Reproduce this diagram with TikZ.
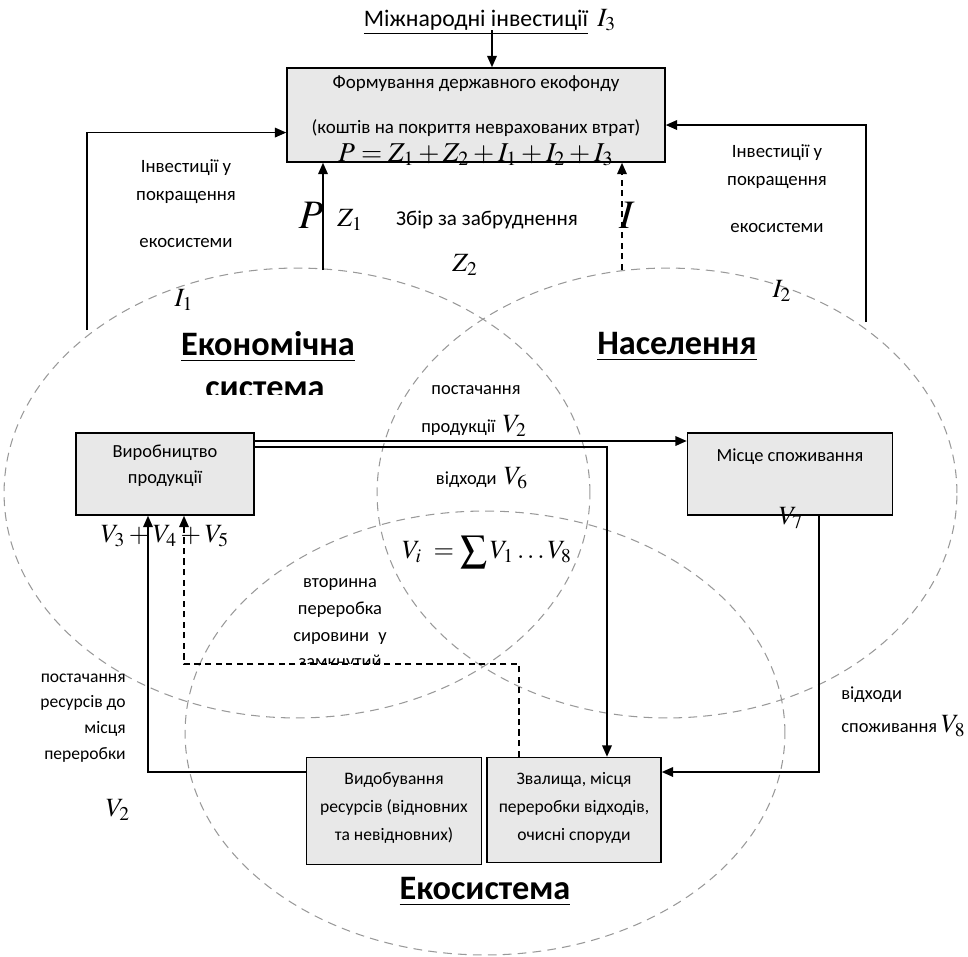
\documentclass[tikz,border=0pt]{standalone}
\usepackage{mathptmx}
\usepackage[no-math]{fontspec}
\setmainfont{Carlito}
\usetikzlibrary{arrows.meta,positioning}
\definecolor{boxfill}{gray}{0.91}
\definecolor{zonegray}{gray}{0.6}

\begin{document}
\begin{tikzpicture}[x=0.02cm, y=-0.02cm,
  >={Triangle[length=6.5pt,width=5.5pt]},
  box/.style={draw, line width=0.9pt, fill=boxfill, inner sep=0pt},
  zone/.style={draw=zonegray, line width=0.6pt, dash pattern=on 5pt off 3.5pt},
  link/.style={line width=0.9pt, ->},
  dlink/.style={link, dash pattern=on 3.5pt off 2.5pt},
  txt/.style={font=\fontsize{10.5}{15.5}\selectfont, align=center, inner sep=0pt},
  head/.style={font=\fontsize{19.5}{22}\selectfont\bfseries, inner sep=0pt},
  sym/.style={font=\fontsize{15}{17}\selectfont, inner sep=0pt},
  bigsym/.style={font=\fontsize{23}{25}\selectfont, inner sep=0pt}]
  \useasboundingbox (0,0) rectangle (968,957);

  % three overlapping systems
  \draw[zone] (297,493) ellipse [x radius=5.86cm, y radius=4.5cm];
  \draw[zone] (667,493) ellipse [x radius=5.8cm, y radius=4.5cm];
  \draw[zone] (485,733) ellipse [x radius=6cm, y radius=4.44cm];

  % boxes
  \node[box, minimum width=7.56cm, minimum height=1.88cm] (fund) at (476,115) {};
  \node[box, minimum width=3.56cm, minimum height=1.64cm] (prod) at (165,474) {};
  \node[box, minimum width=4.1cm, minimum height=1.64cm] (cons) at (790,474) {};
  \node[box, minimum width=3.5cm, minimum height=2.14cm] (mine) at (394,811) {};
  \node[box, minimum width=3.48cm, minimum height=2.1cm] (dump) at (574,810) {};

  \node[txt, font=\fontsize{10.8}{25.5}\selectfont] (fundtxt) at (476,106)
    {Формування державного екофонду\\(коштів на покриття неврахованих втрат)};
  \node[sym, font=\fontsize{15.5}{17}\selectfont, anchor=base] (sumP) at (476,161)
    {$P = Z_1 + Z_2 + I_1 + I_2 + I_3$};
  \node[txt, font=\fontsize{10.5}{14.7}\selectfont] (prodtxt) at (165,466) {Виробництво\\продукції};
  \node[txt] (constxt) at (790,457) {Місце споживання};
  \node[txt, font=\fontsize{10}{15.9}\selectfont] (minetxt) at (394,808)
    {Видобування\\ресурсів (відновних\\та невідновних)};
  \node[txt, font=\fontsize{10}{15.9}\selectfont] (dumptxt) at (574,808)
    {Звалища, місця\\переробки відходів,\\очисні споруди};

  % labels
  \node[inner sep=0pt, font=\fontsize{13.5}{15}\selectfont] (intl) at (490,22)
    {\underline{Міжнародні інвестиції}\, {\fontsize{15}{17}\selectfont$I_3$}};
  \node[txt, font=\fontsize{10.7}{15.9}\selectfont] (invL) at (186,204)
    {Інвестиції у\\покращення\\[10.8pt]екосистеми};
  \node[txt, font=\fontsize{10.7}{15.9}\selectfont] (invR) at (777,189)
    {Інвестиції у\\покращення\\[10.8pt]екосистеми};
  \node[bigsym] (bigP) at (311,215) {$P$};
  \node[bigsym] (bigI) at (627,215) {$I$};
  \node[sym] (z1) at (350,220) {$Z_1$};
  \node[txt, font=\fontsize{12}{14}\selectfont] (fee) at (487,220) {Збір за забруднення};
  \node[sym] (z2) at (465,265) {$Z_2$};
  \node[sym] (i1) at (184,300) {$I_1$};
  \node[sym] (i2) at (782,291) {$I_2$};

  \node[head] (econ) at (268,347) {\underline{Економічна}};
  \begin{scope}
    \clip (150,360) rectangle (400,394);
    \node[head, anchor=base] (econb) at (265,398) {система};
  \end{scope}
  \node[head] (popl) at (677,347) {\underline{Населення}};
  \node[head] (ecos) at (485,892) {\underline{Екосистема}};

  \node[txt] (supl) at (476,390) {постачання};
  \node[txt] (supl2) at (474,426) {продукції \,{\fontsize{15}{17}\selectfont$V_2$}};
  \node[txt] (wst6) at (482,478) {відходи \,{\fontsize{15}{17}\selectfont$V_6$}};
  \node[sym] (vsum) at (487,552) {$V_i \;= \displaystyle\sum V_1 \ldots V_8$};
  \node[sym] (v345) at (165,536) {$V_3 + V_4 + V_5$};
  \node[sym] (v7) at (791,518) {$V_7$};

  \begin{scope}
    \clip (250,560) rectangle (430,663);
    \node[txt, font=\fontsize{10.5}{15.3}\selectfont, anchor=north] (recytxt) at (340,578)
      {вторинна\\переробка\\сировини \;у\\замкнутий};
  \end{scope}
  \node[txt, font=\fontsize{10}{14.7}\selectfont, align=right, anchor=east] (supres) at (126,718)
    {постачання\\ресурсів до\\місця\\переробки};
  \node[sym] (v2b) at (118,810) {$V_2$};
  \node[txt, font=\fontsize{10.5}{19.3}\selectfont, align=left, anchor=north west] (cwtxt) at (841,686)
    {відходи\\споживання {\fontsize{15}{17}\selectfont$V_8$}};

  % connectors
  \coordinate (intlfoot) at (492,30);
  \draw[link] (intlfoot) -- (intlfoot |- fund.north);
  \coordinate (ecoinv) at (87,330);
  \draw[link] (ecoinv) |- ([yshift=-10pt]fund.west);
  \coordinate (popinv) at (866,322);
  \draw[link] (popinv) |- ([yshift=-5.7pt]fund.east);
  \coordinate (econtop) at (323,270);
  \draw[link] (econtop) -- (econtop |- fund.south);
  \coordinate (poptop) at (622,270);
  \draw[dlink] (poptop) -- (poptop |- fund.south);

  \coordinate (sup) at (0,441);
  \draw[link] (prod.east |- sup) -- (cons.west |- sup);
  \coordinate (wstdrop) at (607,447);
  \draw[link] (prod.east |- wstdrop) -- (wstdrop) -- (wstdrop |- dump.north);
  \coordinate (cwst) at (819,772);
  \draw[link] (cwst |- cons.south) -- (cwst) -- (cwst -| dump.east);
  \coordinate (resin) at (148,772);
  \draw[link] (resin -| mine.west) -- (resin) -- (resin |- prod.south);
  \coordinate (recyc) at (184,664);
  \coordinate (recycup) at (519,664);
  \draw[dlink] (recycup |- dump.north) -- (recycup) -- (recyc) -- (recyc |- prod.south);
\end{tikzpicture}
\end{document}
